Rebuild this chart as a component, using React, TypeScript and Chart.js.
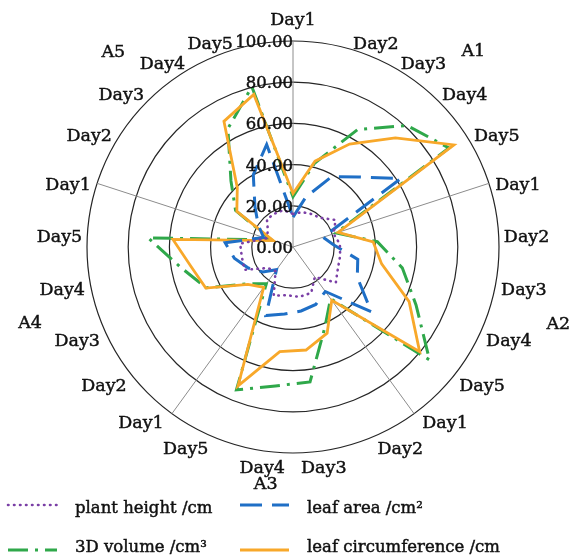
import React, { useEffect, useRef } from "react";
import { Chart, registerables } from "chart.js";

Chart.register(...registerables);

// ---------- data ----------
const days = ["Day1", "Day2", "Day3", "Day4", "Day5"];
const groups = ["A1", "A2", "A3", "A4", "A5"];
const categories = groups.flatMap(() => days);
const tickValues = [0, 20, 40, 60, 80, 100];

const seriesNames = [
  "plant height /cm",
  "leaf area /cm\u00B2",
  "3D volume /cm\u00B3",
  "leaf circumference /cm",
];

const plantHeight = [
  16, 17.5, 18.3, 19.4, 24.5,
  20.7, 22.8, 23.3, 24.1, 27,
  18, 24, 24.4, 23.6, 25.4,
  14.4, 16, 26, 25.3, 25.7,
  13.7, 14.4, 18.5, 18.5, 18.5,
];
const leafArea = [
  14.5, 25, 39, 46.6, 62,
  15.3, 19.5, 32, 34.5, 49.3,
  26.7, 30, 31.3, 32.8, 35.8,
  13.6, 19, 24, 29, 33,
  15, 20, 27, 40, 51.4,
];
const volume3D = [
  24.4, 42, 65, 80.9, 89.7,
  22, 41, 54, 66, 86,
  31, 42, 66, 68, 74.6,
  22, 28, 46.5, 55, 70.5,
  11, 33, 44, 65.6, 80.3,
];
const leafCircumference = [
  26, 43, 57, 72.6, 92.5,
  23, 39, 43.8, 62.3, 79.8,
  32, 45, 50.4, 51.2, 72.5,
  24.2, 28.4, 46.8, 50.4, 58.4,
  10.1, 32.3, 39.5, 69.6, 76.5,
];

// ---------- styles ----------
const FONT = '"DejaVu Serif", "Liberation Serif", serif';
const TEXT = "#111111";
const styles = [
  { color: "#7a3fa6", dash: [0.5, 5.5], width: 2.6, cap: "round" },
  { color: "#1f6fc6", dash: [22, 10], width: 3, cap: "butt" },
  { color: "#2fa84a", dash: [20, 7, 3, 7], width: 3, cap: "butt" },
  { color: "#f8a82a", dash: [], width: 2.8, cap: "butt" },
];
// group label placement: angle (deg from top, clockwise) and radius factor
const groupLabelPlacement = [
  { deg: 42.5, k: 1.296 },
  { deg: 106, k: 1.34 },
  { deg: 186.6, k: 1.155 },
  { deg: 254, k: 1.328 },
  { deg: 317.5, k: 1.291 },
];
const legendLayout = {
  colX: [8, 240],
  rowY: [505, 550],
  textBaselineY: [512.5, 552],
  sampleLen: 49,
  textGap: 18,
};

function heavyText(ctx: CanvasRenderingContext2D, t: string, x: number, y: number) {
  ctx.fillText(t, x, y);
  ctx.strokeText(t, x, y);
}

const overlay = {
  id: "overlay",
  afterDatasetsDraw(chart: any) {
    const s = chart.scales.r;
    const ctx = chart.ctx;
    ctx.save();
    ctx.font = `16.5px ${FONT}`;
    ctx.fillStyle = TEXT;
    ctx.strokeStyle = TEXT;
    ctx.lineWidth = 0.45;
    ctx.textAlign = "right";
    ctx.textBaseline = "alphabetic";
    tickValues.forEach((v) => {
      const d = s.getDistanceFromCenterForValue(v);
      heavyText(ctx, v.toFixed(2), s.xCenter, s.yCenter - d + 6);
    });
    ctx.restore();
  },
  afterDraw(chart: any) {
    const s = chart.scales.r;
    const ctx = chart.ctx;
    ctx.save();
    ctx.fillStyle = TEXT;
    ctx.strokeStyle = TEXT;
    ctx.lineWidth = 0.45;
    ctx.textBaseline = "alphabetic";
    ctx.font = `17.5px ${FONT}`;
    // point labels
    categories.forEach((lab, i) => {
      const a = s.getIndexAngle(i);
      const sn = Math.sin(a);
      const cs = Math.cos(a);
      const p = s.getPointPosition(i, s.drawingArea);
      let x = p.x;
      let y: number;
      if (Math.abs(sn) < 0.2) {
        ctx.textAlign = "center";
        x = p.x + sn * 40;
        y = cs > 0 ? p.y - 16.5 : p.y + 21.5;
      } else {
        ctx.textAlign = sn > 0 ? "left" : "right";
        x = p.x + (sn > 0 ? 1 : -1) * (5 + 4 * Math.abs(cs));
        y = p.y - 7 * cs + 8.5;
      }
      heavyText(ctx, lab, x, y);
    });
    // group labels
    ctx.textAlign = "center";
    groups.forEach((g, gi) => {
      const pl = groupLabelPlacement[gi];
      const r = s.drawingArea * pl.k;
      const a = (pl.deg * Math.PI) / 180;
      const x = s.xCenter + r * Math.sin(a);
      const y = s.yCenter - r * Math.cos(a);
      heavyText(ctx, g, x, y + 6);
    });
    // legend
    ctx.font = `16.5px ${FONT}`;
    ctx.textAlign = "left";
    seriesNames.forEach((name, i) => {
      const col = i % 2;
      const row = Math.floor(i / 2);
      const st = styles[i];
      const x0 = legendLayout.colX[col];
      const y0 = legendLayout.rowY[row];
      ctx.save();
      ctx.strokeStyle = st.color;
      ctx.lineWidth = st.width;
      ctx.lineCap = st.cap;
      ctx.setLineDash(st.dash);
      ctx.beginPath();
      ctx.moveTo(x0, y0);
      ctx.lineTo(x0 + legendLayout.sampleLen, y0);
      ctx.stroke();
      ctx.restore();
      heavyText(
        ctx,
        name,
        x0 + legendLayout.sampleLen + legendLayout.textGap,
        legendLayout.textBaselineY[row]
      );
    });
    ctx.restore();
  },
};

export default function App() {
  const ref = useRef<HTMLCanvasElement>(null);
  useEffect(() => {
    document.body.style.margin = "0";
    const series = [plantHeight, leafArea, volume3D, leafCircumference];
    const chart = new Chart(ref.current as HTMLCanvasElement, {
      type: "radar",
      data: {
        labels: categories,
        datasets: series.map((d, i) => ({
          label: seriesNames[i],
          data: d,
          borderColor: styles[i].color,
          backgroundColor: "transparent",
          borderWidth: styles[i].width,
          borderDash: styles[i].dash,
          borderCapStyle: styles[i].cap as any,
          borderJoinStyle: "miter" as any,
          fill: false,
          pointRadius: 0,
          pointHoverRadius: 0,
          tension: 0,
          order: [1, 2, 4, 3][i],
        })),
      },
      options: {
        responsive: false,
        animation: false,
        layout: { padding: { left: 87, right: 78, top: 41, bottom: 105 } },
        plugins: {
          legend: { display: false },
          tooltip: { enabled: false },
        },
        scales: {
          r: {
            min: 0,
            max: 100,
            ticks: { display: false, stepSize: 20 },
            pointLabels: { display: false },
            grid: { circular: true, color: "#262626", lineWidth: 1.2 },
            angleLines: {
              display: true,
              color: "#8c8c8c",
              lineWidth: (c: any) => (c.index % 5 === 0 ? 1 : 0),
            },
          },
        },
      } as any,
      plugins: [overlay as any],
    });
    return () => chart.destroy();
  }, []);
  return (
    <div style={{ width: 577, height: 558 }}>
      <canvas ref={ref} width={577} height={558} style={{ display: "block" }} />
    </div>
  );
}
